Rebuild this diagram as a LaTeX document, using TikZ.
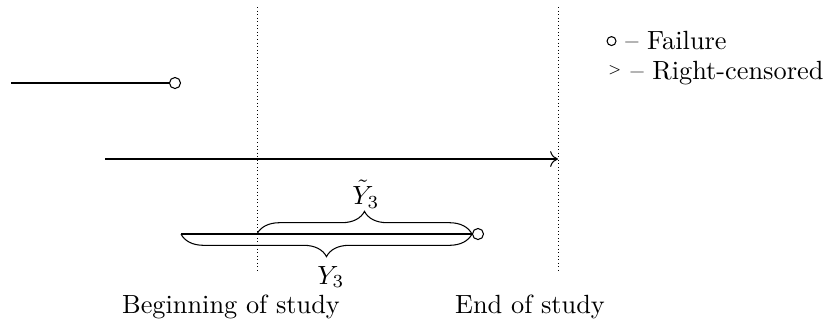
\documentclass[tikz,border=0pt]{standalone}
\usetikzlibrary{decorations.pathreplacing,arrows.meta}
\begin{document}
\begin{tikzpicture}[x=0.38pt,y=-0.38pt,
  dot/.style={circle,draw,fill=white,inner sep=0pt,minimum size=4.2pt,line width=0.4pt},
  guide/.style={densely dotted,line width=0.35pt},
  life/.style={line width=0.4pt},
  bracedown/.style={decorate,decoration={brace,amplitude=8.6pt,mirror},line width=0.4pt},
  braceup/.style={decorate,decoration={brace,amplitude=8.6pt},line width=0.4pt},
  lab/.style={inner sep=0pt}]
\useasboundingbox (0,0) rectangle (829,327);
% guide lines
\coordinate (b1) at (257,7); \coordinate (b2) at (257,272);
\coordinate (e1) at (558,7); \coordinate (e2) at (558,272);
\draw[guide] (b1) -- (b2);
\draw[guide] (e1) -- (e2);
% subject 1
\coordinate (s1) at (11,83);
\node[dot] (f1) at (175,83) {};
\draw[life] (s1) -- (f1);
% subject 2
\coordinate (s2) at (105,159);
\coordinate (c2) at (558,159);
\draw[life,-{To[length=3pt,width=6pt]}] (s2) -- (c2);
% subject 3
\coordinate (s3) at (181,234);
\node[dot] (f3) at (478,234) {};
\coordinate (b3) at (257,234);
\draw[life] (s3) -- (f3);
\draw[braceup] (b3) -- (f3.west);
\draw[bracedown] (s3) -- (f3.west);
\node[lab] (yt) at (366,194) {$\tilde{Y}_3$};
\node[lab] (y) at (331,277) {$Y_3$};
% labels
\node[lab,anchor=base] (beg) at (231,313) {Beginning of study};
\node[lab,anchor=base] (end) at (530,313) {End of study};
% legend
\node[lab,anchor=base west] (l1) at (606,49) {\tikz[baseline=-0.5ex]\draw[line width=0.4pt] (0,0.2ex) circle (1.7pt);\ -- Failure};
\node[lab,anchor=base west] (l2) at (607,79) {\raisebox{0.45ex}{$\scriptscriptstyle>$}\ -- Right-censored};
\end{tikzpicture}
\end{document}
